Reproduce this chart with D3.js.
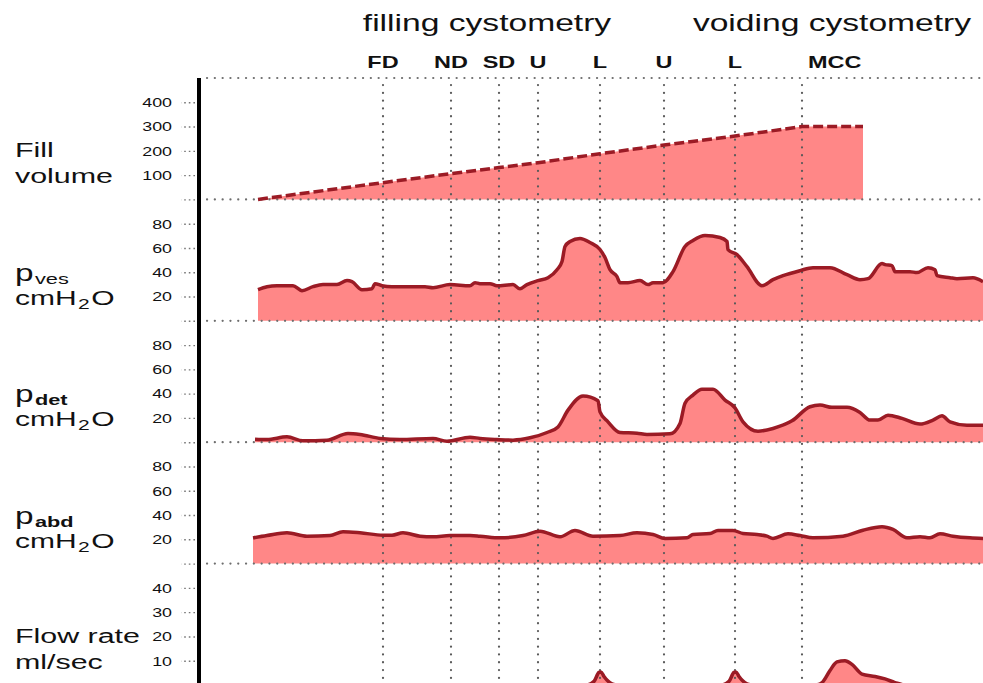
<!DOCTYPE html>
<html>
<head>
<meta charset="utf-8">
<script src="https://cdn.jsdelivr.net/npm/d3@7"></script>
<style>
  body { margin: 0; background: #fff; }
  text { font-family: "Liberation Sans", Arial, Helvetica, sans-serif; fill: #111; }
</style>
</head>
<body>
<svg id="chart" width="983" height="683"></svg>
<script>
// Urodynamic trace: time in seconds.

const phaseNames = ["filling cystometry", "voiding cystometry"]
const phaseCentres = [144, 316.5]

const eventNames = ["FD", "ND", "SD", "U", "L", "U", "L", "MCC"]
const eventTimes = [92, 126, 150, 169.5, 200.5, 232.5, 268, 301.5]

// [time, ml]
const fillVolume = [
  [29.5, 0], [92, 69], [126, 106], [150, 131], [169.5, 151], [200.5, 188],
  [232.5, 224], [268, 261], [301.5, 300], [332, 300]
]

// [time, cmH2O]
const pves = [
  [29.5, 25.6], [34, 28.1], [39, 28.9], [47, 28.9], [51.5, 24.8], [57, 28.1],
  [62, 29.8], [69, 29.8], [74, 33.1], [76.5, 32.2], [81.5, 25.6], [86.5, 26.4],
  [88, 30.6], [91.5, 28.9], [96.5, 28.1], [113, 28.1], [117, 27.3], [125.5, 29.8],
  [135.5, 28.9], [138, 31.4], [140.5, 30.6], [145.5, 30.6], [149, 28.9], [157, 29.8],
  [160.5, 26.4], [164, 29.8], [169.5, 33.1], [174.5, 35.5], [179, 42.1], [181.5, 48.8],
  [183, 61.2], [185.5, 65.3], [190.5, 67.8], [195.5, 64.5], [200.5, 58.7], [203, 52.1],
  [205.5, 42.1], [209, 36.4], [210.5, 31.4], [214.5, 31.4], [220.5, 33.1], [224.5, 29.8],
  [227, 31.4], [232, 31.4], [237, 40.5], [243, 61.2], [247, 66.1], [253, 70.2],
  [260.5, 68.6], [264, 65.3], [264.5, 58.7], [269, 54.5], [274, 44.6], [281.5, 28.9],
  [287, 33.9], [292, 37.2], [300.5, 41.3], [307, 43.8], [315.5, 43.8], [324, 38.0],
  [330.5, 33.9], [334.5, 34.7], [341.5, 47.1], [343, 46.3], [346.5, 45.5], [348, 40.5],
  [355.5, 40.5], [359, 39.7], [364.5, 43.8], [368, 42.1], [369, 37.2], [375.5, 35.5],
  [379, 34.7], [387, 35.5], [392, 32.2]
]

const pdet = [
  [28, 2.5], [34, 2.2], [44, 4.4], [52, 1.1], [64, 1.7], [74.5, 7.2], [80.5, 6.4],
  [90.5, 3.1], [100.5, 2.2], [117, 3.1], [124, 0.8], [135.5, 4.1], [140.5, 3.1],
  [149, 2.2], [157, 1.7], [165.5, 3.6], [174, 8.0], [179.5, 12.6], [184.5, 26.4],
  [192, 38.0], [199.5, 34.1], [200.5, 25.0], [204.5, 16.8], [210.5, 8.0], [219, 7.4],
  [224, 6.4], [235.5, 6.9], [240.5, 15.5], [243, 32.0], [247, 38.8], [251.5, 43.6],
  [257, 43.6], [263, 34.7], [268, 28.3], [272, 16.8], [279.5, 9.1], [287, 11.3],
  [296.5, 17.6], [305.5, 29.2], [310.5, 30.6], [316.5, 28.7], [324, 28.7], [330.5, 24.5],
  [335.5, 18.2], [339.5, 18.2], [344.5, 22.3], [351.5, 19.6], [360.5, 14.9], [367, 18.2],
  [371.5, 21.7], [375.5, 16.8], [384, 14.0], [392, 14.0]
]

const pabd = [
  [27, 21.2], [34, 23.1], [44, 25.4], [54, 22.6], [65.5, 23.1], [72, 26.2], [80.5, 25.4],
  [92, 23.4], [96.5, 23.4], [102, 25.4], [110.5, 22.6], [117, 22.1], [125.5, 23.1],
  [135.5, 23.1], [140.5, 22.6], [150.5, 21.2], [162, 23.1], [170.5, 26.7], [180.5, 22.1],
  [188, 27.3], [197, 22.6], [210.5, 23.1], [219, 25.4], [227, 24.0], [233, 20.7],
  [244, 21.2], [247, 24.0], [255.5, 24.8], [259.5, 27.3], [267, 27.3], [272, 24.8],
  [279, 24.0], [284, 22.6], [287, 20.7], [294.5, 24.5], [300.5, 23.1], [307, 21.2],
  [322, 22.6], [332, 27.5], [341.5, 30.3], [347, 28.1], [354, 21.2], [360.5, 22.1],
  [365.5, 21.2], [370.5, 24.5], [377, 22.6], [385.5, 21.2], [392, 20.7]
]

// [time, ml/sec]
const flowRate = [
  [29.5, 0], [193.5, 0], [197.5, 1.5], [200, 5.2], [201, 5.4], [202.5, 3.5], [206.5, 0.5],
  [209.5, 0], [261, 0], [265, 1.5], [267.5, 5.2], [268.5, 5.4], [270, 3.5], [274, 0.5],
  [277, 0], [308, 0], [311.5, 1], [315.5, 6], [319, 9.5], [323, 10], [326.5, 8.5],
  [331.5, 4.5], [338, 3.5], [343, 2.5], [348, 1], [353, 0], [392, 0]
]

const volumeTicks = [0, 100, 200, 300, 400]
const pressureTicks = [0, 20, 40, 60, 80]
const flowTicks = [0, 10, 20, 30, 40]

const panels = [
  { label: ["Fill", "volume"], max: 500, ticks: volumeTicks, data: fillVolume, dashed: true },
  { label: ["p", "ves", "cmH2O"], subBold: false, max: 100, ticks: pressureTicks, data: pves },
  { label: ["p", "det", "cmH2O"], subBold: true, max: 100, ticks: pressureTicks, data: pdet },
  { label: ["p", "abd", "cmH2O"], subBold: true, max: 100, ticks: pressureTicks, data: pabd },
  { label: ["Flow rate", "ml/sec"], max: 50, ticks: flowTicks, data: flowRate }
]

const width = 983
const height = 683
const axisX = 199
const plotTop = 78
const panelH = 121.4
const lineColor = "#9b1b25"
const areaColor = "#ff8787"
const dotColor = "#6e6e6e"

const svg = d3.select("#chart")
svg.append("rect").attr("width", width).attr("height", height).attr("fill", "#fff")

const x = d3.scaleLinear().domain([0, 392]).range([axisX, width])

// stretch glyphs horizontally (the reference type is wide)
function widen(sel, k) {
  sel.each(function () {
    const w = this.getComputedTextLength()
    d3.select(this).attr("textLength", w * k).attr("lengthAdjust", "spacingAndGlyphs")
  })
}

panels.forEach((p, i) => {
  const base = plotTop + panelH * (i + 1)
  p.base = base
  p.y = d3.scaleLinear().domain([0, p.max]).range([base, base - panelH])
})

const gFill = svg.append("g")
const gGrid = svg.append("g")
const gLine = svg.append("g")

// areas
panels.forEach((p) => {
  const curve = p.dashed ? d3.curveLinear : d3.curveMonotoneX
  gFill.append("path")
    .datum(p.data)
    .attr("fill", areaColor)
    .attr("d", d3.area().x((d) => x(d[0])).y0(p.base).y1((d) => p.y(d[1])).curve(curve))

  gLine.append("path")
    .datum(p.data)
    .attr("fill", "none")
    .attr("stroke", lineColor)
    .attr("stroke-width", 3.5)
    .attr("stroke-linejoin", "round")
    .attr("stroke-dasharray", p.dashed ? "10,4" : null)
    .attr("d", d3.line().x((d) => x(d[0])).y((d) => p.y(d[1])).curve(curve))
})

// horizontal dotted lines (top + each panel baseline)
const hLines = [plotTop].concat(panels.map((p) => p.base))
gGrid.selectAll(".hline")
  .data(hLines)
  .join("line")
  .attr("x1", 207).attr("x2", width)
  .attr("y1", (d) => d).attr("y2", (d) => d)
  .attr("stroke", dotColor)
  .attr("stroke-width", 2.2)
  .attr("stroke-linecap", "round")
  .attr("stroke-dasharray", "0.1,7.7")

// event lines
gGrid.selectAll(".vline")
  .data(eventTimes)
  .join("line")
  .attr("x1", (d) => x(d)).attr("x2", (d) => x(d))
  .attr("y1", plotTop + 7).attr("y2", height)
  .attr("stroke", "#5a5a5a")
  .attr("stroke-width", 2.2)
  .attr("stroke-linecap", "round")
  .attr("stroke-dasharray", "0.1,7.7")

// axes
panels.forEach((p) => {
  const g = svg.append("g")
    .attr("transform", `translate(195,0)`)
    .call(d3.axisLeft(p.y).tickValues(p.ticks).tickSize(14).tickPadding(9)
      .tickFormat((d) => (d === 0 ? "" : d)))
  g.select(".domain").remove()
  g.selectAll(".tick line")
    .attr("stroke", "#777")
    .attr("stroke-width", 1.4)
    .attr("stroke-dasharray", "1.6,3")
  const t = g.selectAll(".tick text")
    .attr("font-size", 13.5)
    .attr("font-family", "'Liberation Sans', Arial, sans-serif")
    .attr("fill", "#111")
  widen(t, 1.32)
})

// solid vertical axis
svg.append("line")
  .attr("x1", axisX).attr("x2", axisX)
  .attr("y1", plotTop).attr("y2", height)
  .attr("stroke", "#000")
  .attr("stroke-width", 4)

// row labels
panels.forEach((p) => {
  const g = svg.append("g").attr("transform", `translate(15,0)`)
  const y1 = p.base - 42
  const y2 = p.base - 16
  if (p.label.length === 2) {
    p.label.forEach((s, j) => {
      g.append("g")
        .attr("transform", `translate(0,${j ? y2 : y1}) scale(1.52,1)`)
        .append("text").attr("font-size", 20).text(s)
    })
  } else {
    const t1 = g.append("g")
      .attr("transform", `translate(0,${y1 + 2}) scale(1.45,1)`)
      .append("text")
    t1.append("tspan").attr("font-size", 23).text(p.label[0])
    t1.append("tspan").attr("font-size", 15).attr("dx", 1).attr("dy", 3)
      .attr("font-weight", p.subBold ? "bold" : "normal").text(p.label[1])
    const t2 = g.append("g")
      .attr("transform", `translate(0,${y2}) scale(1.5,1)`)
      .append("text").attr("font-size", 20)
    t2.append("tspan").text("cmH")
    t2.append("tspan").attr("font-size", 14).attr("dy", 4).attr("dx", 1).text("2")
    t2.append("tspan").attr("dy", -4).attr("dx", 1).text("O")
  }
})

// event labels
svg.selectAll(".evlabel")
  .data(eventNames)
  .join("text")
  .attr("x", (d, i) => x(eventTimes[i]) + (d === "MCC" ? 6 : 0))
  .attr("y", 68)
  .attr("text-anchor", (d) => (d === "MCC" ? "start" : "middle"))
  .attr("font-size", 17)
  .attr("font-weight", "bold")
  .text((d) => d)
  .call(widen, 1.38)

// phase headings
svg.selectAll(".phase")
  .data(phaseNames)
  .join("text")
  .attr("x", (d, i) => x(phaseCentres[i]))
  .attr("y", 31)
  .attr("text-anchor", "middle")
  .attr("font-size", 24)
  .text((d) => d)
  .call(widen, 1.4)
</script>
</body>
</html>
